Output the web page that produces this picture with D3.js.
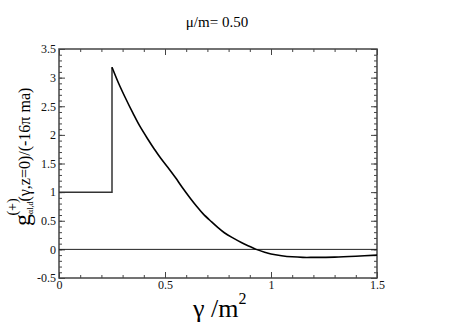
<!DOCTYPE html>
<html>
<head>
<meta charset="utf-8">
<script src="https://cdn.jsdelivr.net/npm/d3@7"></script>
<style>
body { margin: 0; background: #fff; }
.domain { display: none; }
.tick line { stroke: #444; }
</style>
</head>
<body>
<div id="chart"></div>
<script>
// chart size and plot frame
var svgWidth = 463;
var svgHeight = 327;
var margin = { top: 49, right: 86, bottom: 49, left: 59 };
var width = svgWidth - margin.left - margin.right;
var height = svgHeight - margin.top - margin.bottom;
var serif = "'Liberation Serif', 'Times New Roman', 'DejaVu Serif', serif";

// data
var gammaVals = [0, 0.25, 0.25, 0.28, 0.31, 0.35, 0.38, 0.42, 0.45, 0.48, 0.52, 0.55, 0.58, 0.62, 0.65, 0.68, 0.72, 0.75, 0.78, 0.82, 0.86, 0.90, 0.93, 0.97, 1.0, 1.05, 1.1, 1.15, 1.2, 1.3, 1.4, 1.5];
var gVals =     [1, 1,    3.18, 2.91, 2.67, 2.37, 2.16, 1.92, 1.75, 1.59, 1.40, 1.25, 1.09, 0.89, 0.75, 0.62, 0.48, 0.38, 0.29, 0.20, 0.12, 0.05, 0.00, -0.05, -0.08, -0.11, -0.13, -0.14, -0.14, -0.135, -0.12, -0.10];
var xTicks = [0, 0.5, 1, 1.5];
var xTickLabels = ["0", "0.5", "1", "1.5"];
var yTicks = [-0.5, 0, 0.5, 1, 1.5, 2, 2.5, 3, 3.5];
var yTickLabels = ["-0.5", "0", "0.5", "1", "1.5", "2", "2.5", "3", "3.5"];
var xMinor = d3.range(0, 1.5001, 0.1);
var yMinor = d3.range(-0.5, 3.5001, 0.1);
var title = "\u03bc/m= 0.50";

var svg = d3.select("#chart")
  .append("svg")
  .attr("width", svgWidth)
  .attr("height", svgHeight)
  .style("font-family", serif);

var chartGroup = svg.append("g")
  .attr("transform", `translate(${margin.left}, ${margin.top})`);

var xScale = d3.scaleLinear().domain([0, 1.5]).range([0, width]);
var yScale = d3.scaleLinear().domain([-0.5, 3.5]).range([height, 0]);

// minor ticks, all four sides, pointing inward
chartGroup.append("g").attr("transform", `translate(0, ${height})`)
  .call(d3.axisBottom(xScale).tickValues(xMinor).tickSize(-3).tickFormat(""));
chartGroup.append("g")
  .call(d3.axisTop(xScale).tickValues(xMinor).tickSize(-3).tickFormat(""));
chartGroup.append("g")
  .call(d3.axisLeft(yScale).tickValues(yMinor).tickSize(-3).tickFormat(""));
chartGroup.append("g").attr("transform", `translate(${width}, 0)`)
  .call(d3.axisRight(yScale).tickValues(yMinor).tickSize(-3).tickFormat(""));

// major ticks
var xAxis = chartGroup.append("g").attr("transform", `translate(0, ${height})`)
  .call(d3.axisBottom(xScale).tickValues(xTicks).tickSize(-6).tickPadding(2)
    .tickFormat((d, i) => xTickLabels[i]));
chartGroup.append("g")
  .call(d3.axisTop(xScale).tickValues(xTicks).tickSize(-6).tickFormat(""));
var yAxis = chartGroup.append("g")
  .call(d3.axisLeft(yScale).tickValues(yTicks).tickSize(-6).tickPadding(3)
    .tickFormat((d, i) => yTickLabels[i]));
chartGroup.append("g").attr("transform", `translate(${width}, 0)`)
  .call(d3.axisRight(yScale).tickValues(yTicks).tickSize(-6).tickFormat(""));

[xAxis, yAxis].forEach(a => a.attr("font-family", serif).attr("font-size", 12)
  .selectAll("text").attr("fill", "#111"));

// frame
chartGroup.append("rect")
  .attr("width", width)
  .attr("height", height)
  .attr("fill", "none")
  .attr("stroke", "#444")
  .attr("stroke-width", 1.5);

// zero line
chartGroup.append("line")
  .attr("x1", xScale(0)).attr("x2", xScale(1.5))
  .attr("y1", yScale(0)).attr("y2", yScale(0))
  .attr("stroke", "#222")
  .attr("stroke-width", 1);

// the curve: flat part and jump first, then smooth tail
var pts = gammaVals.map((g, i) => [g, gVals[i]]);
var stepLine = d3.line().x(d => xScale(d[0])).y(d => yScale(d[1]));
var curveLine = d3.line().x(d => xScale(d[0])).y(d => yScale(d[1])).curve(d3.curveCatmullRom);

chartGroup.append("path")
  .attr("d", stepLine(pts.slice(0, 3)))
  .attr("fill", "none")
  .attr("stroke", "#333")
  .attr("stroke-width", 1.5);

chartGroup.append("path")
  .attr("d", curveLine(pts.slice(2)))
  .attr("fill", "none")
  .attr("stroke", "#000")
  .attr("stroke-width", 1.6);

// title
svg.append("text")
  .attr("x", 217)
  .attr("y", 27)
  .attr("text-anchor", "middle")
  .style("font-size", "15px")
  .text(title);

// x label
var xLabel = svg.append("text")
  .attr("x", 193)
  .attr("y", 317)
  .style("font-size", "26px");
xLabel.append("tspan").text("\u03b3 /m");
xLabel.append("tspan").attr("dy", -13).style("font-size", "16px").text("2");

// y label, rotated
var yLabel = svg.append("text")
  .attr("transform", "translate(30, 226) rotate(-90)");
yLabel.append("tspan").style("font-size", "24px").text("g");
yLabel.append("tspan").attr("dy", 3).style("font-size", "8px").text("\u03b1l,d");
yLabel.append("tspan").attr("dy", -3).style("font-size", "16px").text("(\u03b3,z=0)/(-16\u03c0 ma)");
// superscript (+) above the g
svg.append("text")
  .attr("transform", "translate(17, 207) rotate(-90)")
  .attr("text-anchor", "middle")
  .style("font-size", "14px")
  .text("(+)");
</script>
</body>
</html>
